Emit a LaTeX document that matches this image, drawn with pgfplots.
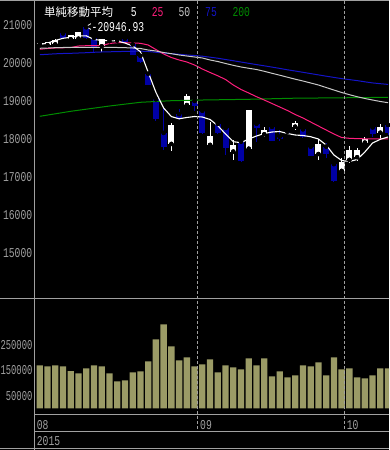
\documentclass[border=0pt]{standalone}
\usepackage{pgfplots}
\pgfplotsset{compat=1.18}
\usepackage{pgfplotstable}
\usepackage{fontspec}
\newfontfamily\numfont{Liberation Mono}[FakeStretch=0.72]
\newfontfamily\numfontv{Liberation Mono}[FakeStretch=0.655]
\newfontfamily\cjk{Noto Sans CJK JP}
\newcommand\nf{\numfont\fontsize{13.5}{14}\selectfont}
\newcommand\nfv{\numfontv\fontsize{13.5}{14}\selectfont}
\definecolor{gridgrey}{RGB}{160,160,160}
\definecolor{candleblue}{RGB}{0,0,165}
\definecolor{maA}{RGB}{255,30,125}
\definecolor{maB}{RGB}{200,200,200}
\definecolor{maC}{RGB}{20,20,200}
\definecolor{maD}{RGB}{0,140,0}
\definecolor{vol}{RGB}{155,155,102}

% up (white) candles
\pgfplotstableread{
i o h l c
1 20500 20555 20440 20530
2 20470 20560 20450 20545
3 20490 20620 20480 20605
5 20625 20745 20580 20735
6 20640 20825 20630 20820
9 20440 20630 20300 20620
10 20575 20630 20540 20600
11 20590 20640 20560 20615
18 17870 18430 17690 18370
20 18895 19180 18890 19130
23 17845 18455 17830 18080
26 17670 17975 17450 17840
28 17745 18770 17740 18765
30 18125 18325 18045 18235
34 18325 18480 18240 18430
37 17605 17990 17450 17868
40 17160 17490 17140 17400
41 17450 17815 17380 17710
42 17520 17750 17430 17710
43 17905 18060 17840 17990
45 18166 18395 17992 18324
}\upc

% down (blue) candles
\pgfplotstableread{
i o h l c
4 20780 20790 20660 20670
7 20940 20946.93 20640 20650
8 20660 20670 20290 20430
12 20640 20655 20530 20550
13 20490 20510 20200 20220
14 20190 20200 20010 20035
15 19720 19740 19410 19430
16 19045 19110 18470 18520
17 18160 18850 17710 17790
19 18655 18790 18510 18550
21 19000 19010 18740 18870
22 18745 18780 18120 18150
24 18400 18440 18140 18160
25 18290 18300 17580 17770
27 17930 17940 17400 17410
29 18400 18410 17930 18290
31 18320 18330 17940 17955
32 18060 18250 17960 18010
33 18195 18230 18120 18150
35 18255 18270 18030 18045
36 17800 17810 17540 17555
38 17800 17900 17490 17605
39 17340 17350 16880 16900
44 18305 18368 18062 18130
46 18368 18400 18100 18150
}\dnc

% moving averages
\pgfplotstableread{
i m5 m25 m50 m75
1 20487 20361 20387 20218
2 20526 20382 20395 20229
3 20592 20395 20403 20242
4 20650 20400 20408 20250
5 20679 20408 20413 20255
6 20710 20447 20413 20263
7 20716 20455 20413 20271
8 20618 20455 20413 20282
9 20597 20455 20413 20290
10 20584 20513 20413 20295
11 20579 20534 20408 20300
12 20526 20534 20403 20305
13 20447 20529 20395 20308
14 20297 20518 20382 20312
15 19760 20474 20342 20303
16 19230 20355 20316 20282
17 18816 20237 20276 20263
18 18590 20145 20245 20245
19 18532 20079 20211 20229
20 18566 20026 20184 20211
21 18592 19947 20158 20197
22 18579 19842 20132 20179
23 18513 19750 20079 20153
24 18350 19663 20039 20126
25 18132 19566 19987 20092
26 17929 19421 19939 20060
27 17903 19303 19895 20026
28 18000 19210 19861 19992
29 18079 19113 19829 19958
30 18145 19026 19782 19926
31 18184 18934 19729 19892
32 18197 18842 19679 19858
33 18145 18750 19626 19821
34 18105 18645 19574 19789
35 18092 18553 19526 19755
36 18060 18447 19474 19721
37 18000 18342 19421 19687
38 17842 18237 19355 19653
39 17579 18132 19289 19621
40 17434 18039 19224 19589
41 17408 18018 19166 19563
42 17460 18010 19113 19537
43 17658 18005 19066 19505
44 17895 18000 19026 19476
45 17992 18000 18987 19455
46 18053 18005 18955 19437
}\mas

\pgfplotstableread{
i v
1 18597
5 18729
10 18868
14 18966
18 19008
22 19026
28 19045
34 19074
40 19084
46 19097
}\mtwo

\pgfplotstableread{
i v
1 169700
2 165800
3 169700
4 165800
5 147400
6 138200
7 157900
8 169700
9 165800
10 138200
11 106600
12 110500
13 142100
14 146000
15 185500
16 272400
17 331600
18 244700
19 189500
20 201300
21 165800
22 173700
23 193400
24 142100
25 169700
26 161800
27 153900
28 197400
29 169700
30 197400
31 126300
32 146000
33 122400
34 130300
35 169700
36 165800
37 181600
38 130300
39 201300
40 153900
41 157900
42 122400
43 118400
44 130300
45 157900
46 157900
}\volt

\begin{document}
\begin{tikzpicture}[x=1pt,y=1pt]
\fill[black] (0,0) rectangle (389,450);
\useasboundingbox (0,0) rectangle (389,450);

\begin{axis}[
  at={(34.7pt,151.2pt)}, anchor=south west,
  scale only axis, width=354.3pt, height=296.8pt,
  xmin=0.341, xmax=46.12, ymin=13794.7, ymax=21605.3,
  axis line style={draw=none},
  xtick=\empty,
  ytick={15000,16000,17000,18000,19000,20000,21000},
  yticklabels={15000,16000,17000,18000,19000,20000,21000},
  scaled y ticks=false,
  major tick length=0pt,
  yticklabel style={font=\nf, text=gridgrey, anchor=east, inner sep=0pt, xshift=-2.3pt},
  clip=true,
]
% wicks
\addplot[only marks, mark=none, error bars/.cd, y dir=both, y explicit, error mark=none,
  error bar style={draw=white, line width=1pt}]
  table[x=i, y=o, y error plus expr=\thisrow{h}-\thisrow{o}, y error minus expr=\thisrow{o}-\thisrow{l}] {\upc};
\addplot[only marks, mark=none, error bars/.cd, y dir=both, y explicit, error mark=none,
  error bar style={draw=candleblue, line width=1pt}]
  table[x=i, y=o, y error plus expr=\thisrow{h}-\thisrow{o}, y error minus expr=\thisrow{o}-\thisrow{l}] {\dnc};
% bodies
\addplot[only marks, mark=none, error bars/.cd, y dir=plus, y explicit, error mark=none,
  error bar style={draw=white, line width=6pt}]
  table[x=i, y=o, y error plus expr=\thisrow{c}-\thisrow{o}] {\upc};
\addplot[only marks, mark=none, error bars/.cd, y dir=minus, y explicit, error mark=none,
  error bar style={draw=candleblue, line width=6pt}]
  table[x=i, y=o, y error minus expr=\thisrow{o}-\thisrow{c}] {\dnc};
% moving averages
\addplot[maD, line width=1pt, mark=none] table[x=i, y=v] {\mtwo};
\addplot[maC, line width=1pt, mark=none] table[x=i, y=m75] {\mas};
\addplot[maA, line width=1pt, mark=none] table[x=i, y=m25] {\mas};
\addplot[maB, line width=1pt, mark=none] table[x=i, y=m50] {\mas};
\addplot[white, line width=1.1pt, mark=none] table[x=i, y=m5] {\mas};
\node[anchor=west, inner sep=0pt, font=\nf, text=white] at (axis cs:6.93,20946.93) {<-20946.93};
\end{axis}

\begin{axis}[
  at={(34.7pt,35.7pt)}, anchor=south west,
  scale only axis, width=354.3pt, height=115.5pt,
  xmin=0.341, xmax=46.12, ymin=-23715, ymax=432806,
  axis line style={draw=none},
  xtick=\empty,
  ytick={50000,150000,250000},
  yticklabels={50000,150000,250000},
  scaled y ticks=false,
  major tick length=0pt,
  yticklabel style={font=\nfv, text=gridgrey, anchor=east, inner sep=0pt, xshift=-2.1pt},
]
\addplot[ybar, bar width=6.3pt, bar shift=0pt, fill=vol, draw=none] table[x=i, y=v] {\volt};
\end{axis}

% frame
\draw[gridgrey, line width=1pt] (0,449) -- (389,449);
\draw[gridgrey, line width=1pt] (0,151.2) -- (389,151.2);
\draw[gridgrey, line width=1pt] (34.7,35.7) -- (389,35.7);
\draw[gridgrey, line width=1pt] (34.7,18) -- (389,18);
\draw[gridgrey, line width=1pt] (0,1) -- (389,1);
\draw[gridgrey, line width=1pt] (34.7,0) -- (34.7,450);
\draw[gridgrey, line width=1pt, dash pattern=on 3pt off 2pt] (197.6,449) -- (197.6,18);
\draw[gridgrey, line width=1pt, dash pattern=on 3pt off 2pt] (344.7,449) -- (344.7,18);

% date labels
\node[anchor=base west, inner sep=0pt, font=\nf, text=gridgrey] at (36.7,20) {08};
\node[anchor=base west, inner sep=0pt, font=\nf, text=gridgrey] at (200,20) {09};
\node[anchor=base west, inner sep=0pt, font=\nf, text=gridgrey] at (346.7,20) {10};
\node[anchor=base west, inner sep=0pt, font=\nf, text=gridgrey] at (36.7,4.3) {2015};

% title
\node[anchor=base west, inner sep=0pt, text=white] at (44,433.5) {\cjk\fontsize{11.5}{12}\selectfont 単純移動平均};
\node[anchor=base west, inner sep=0pt, font=\nf, text=white] at (130.7,433.5) {5};
\node[anchor=base west, inner sep=0pt, font=\nf, text=maA] at (151.7,433.5) {25};
\node[anchor=base west, inner sep=0pt, font=\nf, text=maB] at (178.3,433.5) {50};
\node[anchor=base west, inner sep=0pt, font=\nf, text=maC] at (205,433.5) {75};
\node[anchor=base west, inner sep=0pt, font=\nf, text=maD] at (232.3,433.5) {200};
\end{tikzpicture}
\end{document}
